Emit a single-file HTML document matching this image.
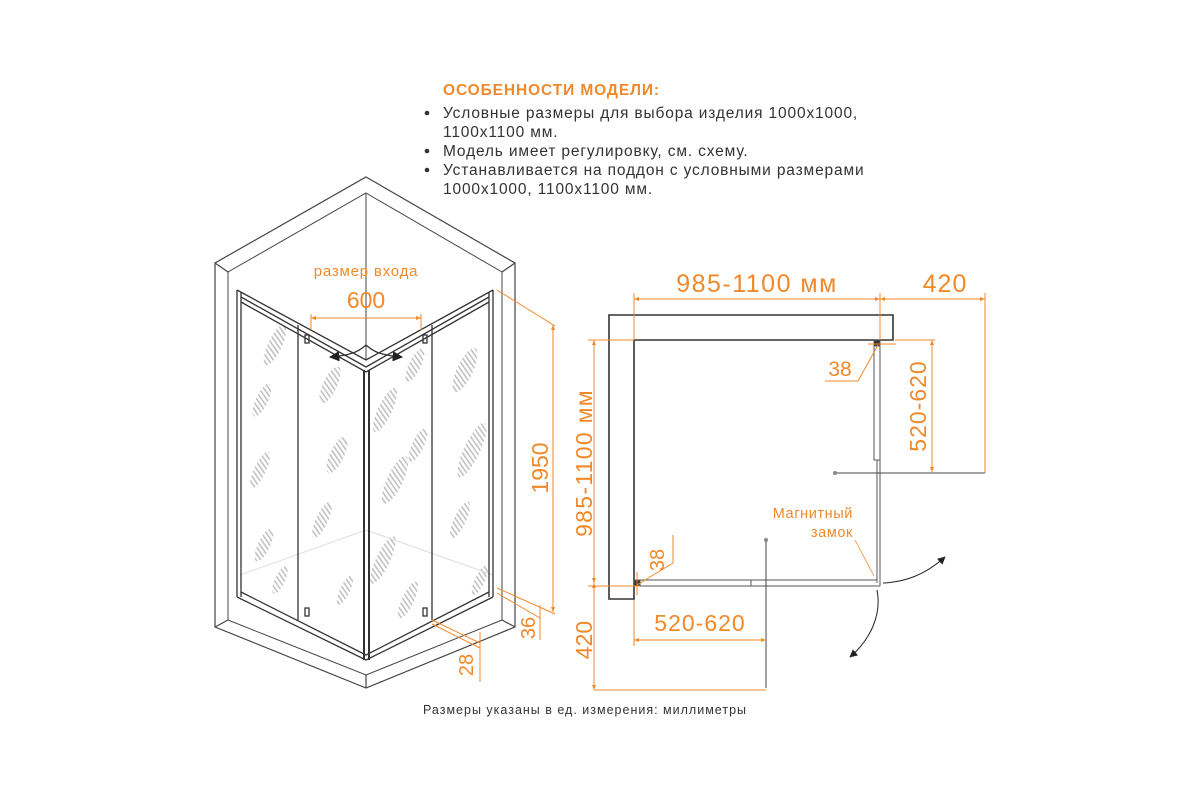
<!DOCTYPE html>
<html><head><meta charset="utf-8"><style>
html,body{margin:0;padding:0;background:#fff;width:1200px;height:800px;overflow:hidden}
svg{display:block}
text{font-family:"Liberation Sans","DejaVu Sans",sans-serif}
</style></head><body>
<svg width="1200" height="800" viewBox="0 0 1200 800" xmlns="http://www.w3.org/2000/svg">
<defs>
<marker id="ao" viewBox="0 0 10 10" refX="10" refY="5" markerWidth="7" markerHeight="5" orient="auto-start-reverse"><path d="M0,1 L10,5 L0,9 z" fill="#f0892a"/></marker>
<marker id="ak" viewBox="0 0 10 10" refX="9" refY="5" markerWidth="8" markerHeight="8" orient="auto"><path d="M0,0 L10,5 L0,10 z" fill="#222"/></marker>
<pattern id="hat" width="4" height="4" patternUnits="userSpaceOnUse" patternTransform="rotate(-60)"><rect width="1.6" height="4" fill="#bbb"/></pattern>
</defs>
<!-- top text -->
<text x="443" y="95" font-size="15.5" font-weight="bold" fill="#f0892a" letter-spacing="0.9">ОСОБЕННОСТИ МОДЕЛИ:</text>
<g font-size="15.5" fill="#333" letter-spacing="0.85">
<circle cx="427" cy="113" r="2.3"/><circle cx="427" cy="151" r="2.3"/><circle cx="427" cy="170" r="2.3"/>
<text x="443" y="118">Условные размеры для выбора изделия 1000x1000,</text>
<text x="443" y="137">1100x1100 мм.</text>
<text x="443" y="156">Модель имеет регулировку, см. схему.</text>
<text x="443" y="175">Устанавливается на поддон с условными размерами</text>
<text x="443" y="194">1000x1000, 1100x1100 мм.</text>
</g>
<text x="423" y="714" font-size="12.5" fill="#333" letter-spacing="1">Размеры указаны в ед. измерения: миллиметры</text>

<!-- isometric -->
<g fill="none" stroke="#444" stroke-width="1.2">
<path d="M366,177 L515,263 L515,627 L366,688 L215,627 L215,263 Z"/>
<path d="M366,193 L502,272 L502,620 L366,675 L228,620 L228,272 Z" stroke-width="1"/>
<line x1="366" y1="193" x2="366" y2="360" stroke-width="1"/>
<path d="M215,263 L228,272 M515,263 L502,272 M215,627 L228,620 M515,627 L502,620 M366,688 L366,675"/>
</g>
<g fill="url(#hat)" opacity="0.9">
<ellipse cx="275" cy="345" rx="7" ry="22" transform="rotate(25 275 345)"/>
<ellipse cx="262" cy="400" rx="6" ry="18" transform="rotate(25 262 400)"/>
<ellipse cx="260" cy="470" rx="6" ry="20" transform="rotate(25 260 470)"/>
<ellipse cx="264" cy="545" rx="6" ry="18" transform="rotate(25 264 545)"/>
<ellipse cx="280" cy="580" rx="5" ry="15" transform="rotate(25 280 580)"/>
<ellipse cx="330" cy="385" rx="7" ry="20" transform="rotate(25 330 385)"/>
<ellipse cx="337" cy="455" rx="7" ry="20" transform="rotate(25 337 455)"/>
<ellipse cx="322" cy="520" rx="6" ry="20" transform="rotate(25 322 520)"/>
<ellipse cx="345" cy="590" rx="5" ry="16" transform="rotate(25 345 590)"/>
<ellipse cx="385" cy="410" rx="7" ry="24" transform="rotate(25 385 410)"/>
<ellipse cx="395" cy="480" rx="8" ry="26" transform="rotate(25 395 480)"/>
<ellipse cx="383" cy="560" rx="7" ry="26" transform="rotate(25 383 560)"/>
<ellipse cx="415" cy="365" rx="6" ry="18" transform="rotate(25 415 365)"/>
<ellipse cx="418" cy="445" rx="6" ry="18" transform="rotate(25 418 445)"/>
<ellipse cx="408" cy="600" rx="6" ry="20" transform="rotate(25 408 600)"/>
<ellipse cx="465" cy="370" rx="8" ry="24" transform="rotate(25 465 370)"/>
<ellipse cx="472" cy="450" rx="8" ry="30" transform="rotate(25 472 450)"/>
<ellipse cx="460" cy="520" rx="6" ry="20" transform="rotate(25 460 520)"/>
<ellipse cx="480" cy="580" rx="5" ry="16" transform="rotate(25 480 580)"/>
</g>
<g fill="none" stroke="#ddd" stroke-width="1">
<path d="M240,575 L366,530 L493,575"/>
</g>
<g fill="none" stroke="#333" stroke-width="1.3">
<line x1="237" y1="290" x2="237" y2="597"/><line x1="241" y1="292" x2="241" y2="597"/>
<line x1="493" y1="290" x2="493" y2="597"/><line x1="489" y1="292" x2="489" y2="597"/>
<line x1="364" y1="370" x2="364" y2="660" stroke-width="2"/><line x1="369" y1="370" x2="369" y2="660" stroke-width="2"/>
<line x1="298" y1="325" x2="298" y2="620"/><line x1="432" y1="325" x2="432" y2="620"/>
<path d="M237,290 L366,360 L493,290"/><path d="M241,297 L366,367 L489,297"/><path d="M241,302 L366,372 L489,302"/>
<path d="M237,597 L366,660 L493,597"/><path d="M241,592 L366,655 L489,592"/>
<rect x="305" y="335" width="4" height="8"/><rect x="423" y="335" width="4" height="8"/>
<rect x="305" y="608" width="4" height="8"/><rect x="423" y="608" width="4" height="8"/>
<path d="M366,345 C360,350 355,355 330,357" marker-end="url(#ak)"/>
<path d="M366,345 C372,350 377,355 402,357" marker-end="url(#ak)"/>
</g>
<g stroke="#f0892a" fill="none" stroke-width="1">
<line x1="311" y1="318" x2="421" y2="318" marker-start="url(#ao)" marker-end="url(#ao)"/>
<line x1="311" y1="314" x2="311" y2="330"/><line x1="421" y1="314" x2="421" y2="330"/>
<line x1="497" y1="290" x2="555" y2="326"/>
<line x1="553" y1="325" x2="553" y2="612" marker-start="url(#ao)" marker-end="url(#ao)"/>
<line x1="497" y1="588" x2="555" y2="614"/><line x1="497" y1="593" x2="540" y2="618"/>
<line x1="540" y1="605" x2="540" y2="640"/>
<line x1="432" y1="620" x2="480" y2="643"/><line x1="432" y1="624" x2="480" y2="648"/>
<line x1="480" y1="632" x2="480" y2="682"/>
</g>
<g fill="#f0892a">
<text x="366" y="276" font-size="15" text-anchor="middle" letter-spacing="0.8">размер входа</text>
<text x="366" y="308" font-size="23" text-anchor="middle">600</text>
<text transform="translate(548,468) rotate(-90)" font-size="23" text-anchor="middle">1950</text>
<text transform="translate(535,628) rotate(-90)" font-size="20" text-anchor="middle">36</text>
<text transform="translate(473,665) rotate(-90)" font-size="20" text-anchor="middle">28</text>
</g>

<!-- plan -->
<g fill="none" stroke="#333" stroke-width="1.6">
<path d="M609,315 L893,315 L893,340 L634,340 L634,599 L609,599 Z"/>
</g>
<g fill="none" stroke="#555" stroke-width="1">
<rect x="874" y="340" width="6" height="120"/>
<line x1="877" y1="460" x2="877" y2="583"/><line x1="880" y1="340" x2="880" y2="586"/>
<rect x="634" y="580" width="117" height="6"/>
<line x1="751" y1="580" x2="877" y2="580"/><line x1="751" y1="586" x2="880" y2="586"/>
<rect x="874" y="340" width="6" height="6" fill="#333"/><rect x="634" y="580" width="6" height="6" fill="#333"/>
<line x1="835" y1="473" x2="985" y2="473" stroke="#444"/>
<line x1="766" y1="540" x2="766" y2="688" stroke="#444"/>
<path d="M883,583 C905,582 925,575 945,557" stroke="#222" marker-end="url(#ak)"/>
<path d="M877,590 C882,615 870,640 850,657" stroke="#222" marker-end="url(#ak)"/>
</g>
<circle cx="835" cy="473" r="2" fill="#888"/><circle cx="766" cy="540" r="2" fill="#888"/>
<g stroke="#f0892a" fill="none" stroke-width="1">
<line x1="634" y1="299" x2="880" y2="299" marker-start="url(#ao)" marker-end="url(#ao)"/>
<line x1="880" y1="299" x2="985" y2="299" marker-start="url(#ao)" marker-end="url(#ao)"/>
<line x1="634" y1="293" x2="634" y2="340"/><line x1="880" y1="293" x2="880" y2="340"/>
<line x1="985" y1="293" x2="985" y2="473"/>
<line x1="895" y1="340" x2="935" y2="340"/>
<line x1="932" y1="340" x2="932" y2="472" marker-start="url(#ao)" marker-end="url(#ao)"/>
<line x1="588" y1="340" x2="634" y2="340"/>
<line x1="594" y1="340" x2="594" y2="583" marker-start="url(#ao)" marker-end="url(#ao)"/>
<line x1="594" y1="583" x2="594" y2="690" marker-start="url(#ao)" marker-end="url(#ao)"/>
<line x1="588" y1="586" x2="640" y2="586"/>
<line x1="594" y1="690" x2="766" y2="690"/>
<line x1="634" y1="600" x2="634" y2="646"/>
<line x1="634" y1="640" x2="766" y2="640" marker-start="url(#ao)" marker-end="url(#ao)"/>
<line x1="868" y1="344" x2="896" y2="344"/>
<line x1="878" y1="345" x2="858" y2="381"/><line x1="825" y1="381" x2="858" y2="381"/>
<line x1="637" y1="585" x2="673" y2="563"/><line x1="673" y1="535" x2="673" y2="563"/>
<line x1="637" y1="572" x2="637" y2="595"/>
<line x1="855" y1="540" x2="874" y2="576" stroke-width="0.8"/>
</g>
<g fill="#f0892a">
<text x="757" y="292" font-size="25" text-anchor="middle" letter-spacing="1.5">985-1100 мм</text>
<text x="945" y="292" font-size="25" text-anchor="middle" letter-spacing="1">420</text>
<text x="840" y="376" font-size="21" text-anchor="middle">38</text>
<text transform="translate(926,406) rotate(-90)" font-size="23" text-anchor="middle" letter-spacing="1">520-620</text>
<text transform="translate(592,463) rotate(-90)" font-size="23" text-anchor="middle" letter-spacing="1.3">985-1100 мм</text>
<text transform="translate(592,640) rotate(-90)" font-size="23" text-anchor="middle">420</text>
<text transform="translate(664,560) rotate(-90)" font-size="20" text-anchor="middle">38</text>
<text x="700" y="631" font-size="23" text-anchor="middle" letter-spacing="1">520-620</text>
<text x="853" y="518" font-size="14.5" text-anchor="end" letter-spacing="0.6">Магнитный</text>
<text x="853" y="537" font-size="14.5" text-anchor="end" letter-spacing="0.6">замок</text>
</g>
</svg>
</body></html>
